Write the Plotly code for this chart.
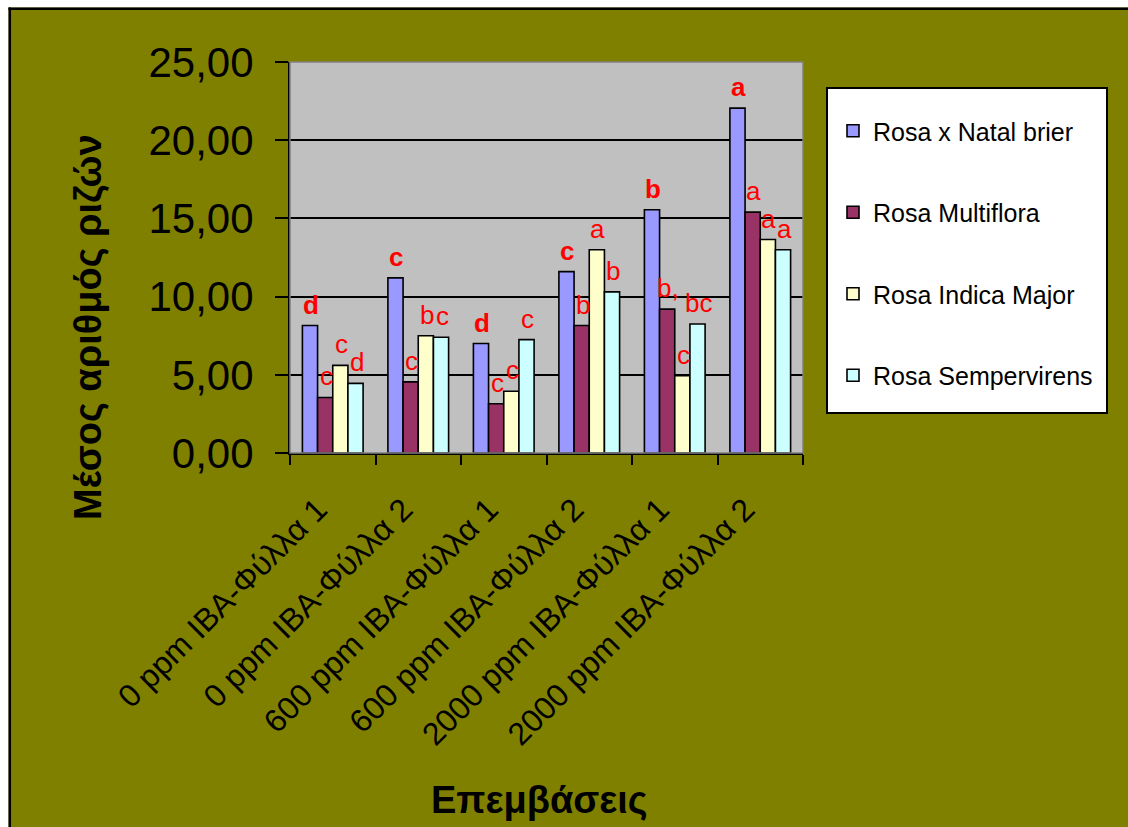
import plotly.graph_objects as go

categories = ["0 ppm IBA-Φύλλα 1", "0 ppm IBA-Φύλλα 2", "600 ppm IBA-Φύλλα 1",
              "600 ppm IBA-Φύλλα 2", "2000 ppm IBA-Φύλλα 1", "2000 ppm IBA-Φύλλα 2"]
series_names = ["Rosa x Natal brier", "Rosa Multiflora", "Rosa Indica Major", "Rosa Sempervirens"]
natal = [8.15, 11.2, 7.0, 11.6, 15.55, 22.05]
multiflora = [3.55, 4.55, 3.15, 8.15, 9.2, 15.4]
indica = [5.6, 7.5, 3.95, 13.0, 4.95, 13.65]
sempervirens = [4.45, 7.4, 7.25, 10.3, 8.25, 13.0]
letters_natal = ["d", "c", "d", "c", "b", "a"]
letters_multiflora = ["c", "c", "c", "b", "b,", "a"]
letters_indica = ["c", "b", "c", "a", "c", "a"]
letters_sempervirens = ["d", "c", "c", "b", "bc", "a"]
y_ticks = [0, 5, 10, 15, 20, 25]

values = [natal, multiflora, indica, sempervirens]
letters = [letters_natal, letters_multiflora, letters_indica, letters_sempervirens]
colors = ["#9999FF", "#993366", "#FFFFCC", "#CCFFFF"]

W, H = 1128, 827
L, R, T, B = 290, 803, 62, 453  # plot area in pixels
FONT = "Liberation Sans, Arial, sans-serif"
BARGAP = 0.29


def xp(px):
    return (px - L) / (R - L)


def yp(py):
    return (B - py) / (B - T)


fig = go.Figure()
for k, (name, vals, col) in enumerate(zip(series_names, values, colors)):
    fig.add_trace(go.Bar(
        x=list(range(len(categories))), y=vals, name=name,
        marker=dict(color=col, line=dict(color="black", width=1.6)),
        legendgroup=f"g{k}",
    ))

# significance letters
w = (1 - BARGAP) / 4
annotations = []
for k in range(4):
    for i, (v, t) in enumerate(zip(values[k], letters[k])):
        annotations.append(dict(
            x=i + (k - 1.5) * w, y=v, xref="x", yref="y",
            text=f"<b>{t}</b>" if k == 0 else t,
            showarrow=False, yanchor="middle", xanchor="center",
            yshift=21, xshift=1,
            font=dict(family=FONT, size=26, color="#FF0000"),
        ))

annotations.append(dict(
    x=xp(539), y=yp(800), xref="paper", yref="paper", text="<b>Επεμβάσεις</b>",
    showarrow=False, xanchor="center", yanchor="middle",
    font=dict(family=FONT, size=38, color="black"),
))
annotations.append(dict(
    x=xp(88), y=yp(327), xref="paper", yref="paper", text="<b>Μέσος αριθμός ριζών</b>",
    showarrow=False, xanchor="center", yanchor="middle", textangle=-90,
    font=dict(family=FONT, size=38, color="black"),
))

shapes = [
    # plot area border (grey)
    dict(type="rect", xref="paper", yref="paper", x0=0, x1=1, y0=0, y1=1,
         line=dict(color="#808080", width=1.5), layer="above"),
    # legend box
    dict(type="rect", xref="paper", yref="paper", x0=xp(827), x1=xp(1107), y0=yp(413), y1=yp(88),
         fillcolor="white", line=dict(color="black", width=2), layer="above"),
    # white outer strips
    dict(type="rect", xref="paper", yref="paper", x0=xp(-20), x1=xp(1150), y0=yp(7.5), y1=yp(-20),
         fillcolor="white", line=dict(width=0), layer="above"),
    dict(type="rect", xref="paper", yref="paper", x0=xp(-20), x1=xp(8.5), y0=yp(850), y1=yp(-20),
         fillcolor="white", line=dict(width=0), layer="above"),
    # black chart border
    dict(type="line", xref="paper", yref="paper", x0=xp(8.5), x1=xp(1150), y0=yp(8.8), y1=yp(8.8),
         line=dict(color="black", width=2.5), layer="above"),
    dict(type="line", xref="paper", yref="paper", x0=xp(9.8), x1=xp(9.8), y0=yp(850), y1=yp(7.5),
         line=dict(color="black", width=2.5), layer="above"),
]

fig.update_layout(
    width=W, height=H,
    margin=dict(l=L, r=W - R, t=T, b=H - B, pad=0),
    paper_bgcolor="#808000", plot_bgcolor="#C0C0C0",
    barmode="group", bargap=BARGAP, bargroupgap=0,
    separators=", ",
    showlegend=True,
    legend=dict(
        x=xp(833), y=yp(108), xanchor="left", yanchor="top",
        bgcolor="rgba(0,0,0,0)", borderwidth=0,
        font=dict(family=FONT, size=25, color="black"),
        traceorder="grouped", tracegroupgap=46,
    ),
    annotations=annotations,
    shapes=shapes,
    font=dict(family=FONT, color="black"),
)
fig.update_xaxes(
    type="linear", tickmode="array", tickvals=list(range(len(categories))), ticktext=categories,
    range=[-0.5, len(categories) - 0.5],
    tickangle=-45, tickfont=dict(family=FONT, size=32, color="black"),
    ticklabelstandoff=23, ticklabelshift=-15,
    showline=True, linecolor="black", linewidth=2,
    ticks="", showgrid=False, zeroline=False,
)
# category-boundary ticks via minor ticks
fig.update_xaxes(minor=dict(tickmode="array", tickvals=[i - 0.5 for i in range(len(categories) + 1)],
                            ticks="outside", ticklen=10, tickcolor="black", tickwidth=2, showgrid=False))
fig.update_yaxes(
    range=[0, 25], tickmode="array", tickvals=y_ticks, tickformat=".2f",
    tickfont=dict(family=FONT, size=42, color="black"),
    showline=True, linecolor="black", linewidth=2,
    ticks="outside", ticklen=13, tickcolor="black", tickwidth=2,
    showgrid=True, gridcolor="black", gridwidth=1.5, zeroline=False,
    ticklabelstandoff=13,
)

fig.write_html("out.html")
